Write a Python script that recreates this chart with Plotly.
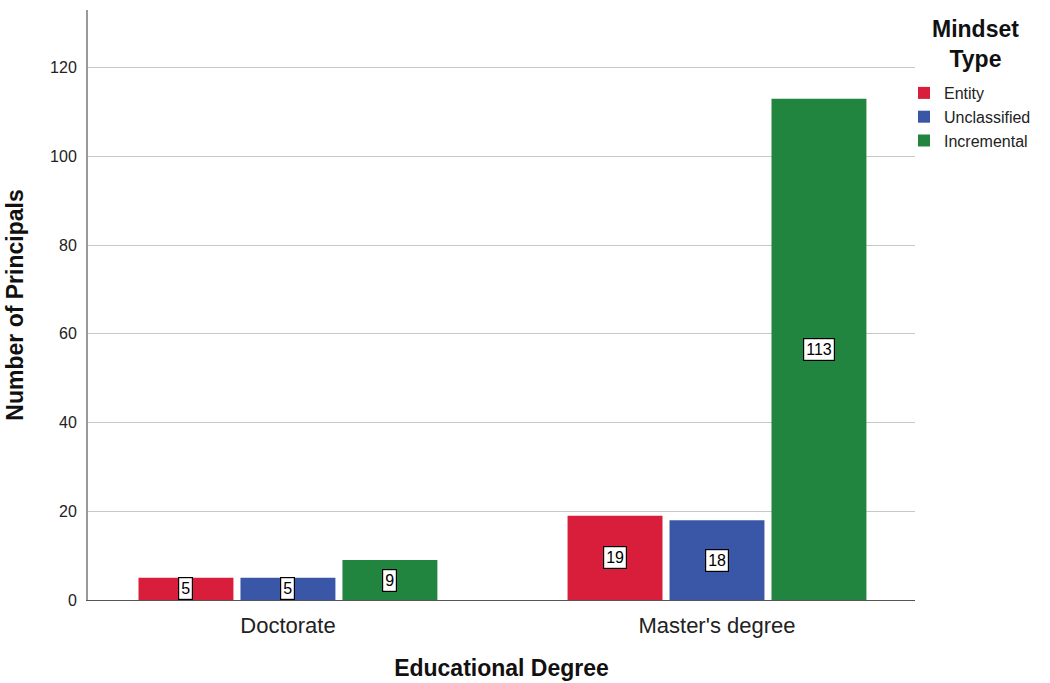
import plotly.graph_objects as go

degrees = ["Doctorate", "Master's degree"]
mindsets = ["Entity", "Unclassified", "Incremental"]
counts = {
    "Entity": [5, 19],
    "Unclassified": [5, 18],
    "Incremental": [9, 113],
}
colors = {"Entity": "#D81E3A", "Unclassified": "#3A57A7", "Incremental": "#21843F"}
y_ticks = [0, 20, 40, 60, 80, 100, 120]

FONT = "Liberation Sans, Arial, sans-serif"
BARGAP = 0.287
GROUPGAP = 0.069

fig = go.Figure()
for m in mindsets:
    fig.add_trace(go.Bar(
        name=m, x=degrees, y=counts[m],
        marker=dict(color=colors[m], line=dict(width=0)),
    ))

# boxed value labels at the middle of each bar
slot = (1 - BARGAP) / len(mindsets)
for k, m in enumerate(mindsets):
    for i, v in enumerate(counts[m]):
        fig.add_annotation(
            x=i + (k - 1) * slot, y=v / 2, xref="x", yref="y",
            text=str(v), showarrow=False,
            font=dict(family=FONT, size=16, color="black"),
            bgcolor="white", bordercolor="black", borderwidth=1.2, borderpad=2,
        )

# legend heading, centred above the entries
fig.add_annotation(
    x=(975 - 88) / 827, y=(600 - 44) / 590, xref="paper", yref="paper",
    xanchor="center", yanchor="middle",
    text="<b>Mindset<br>Type</b>", showarrow=False,
    font=dict(family=FONT, size=23, color="#111"), align="center",
)

fig.update_layout(
    width=1050, height=683,
    margin=dict(l=88, r=135, t=10, b=83, autoexpand=False),
    paper_bgcolor="white", plot_bgcolor="white",
    barmode="group", bargap=BARGAP, bargroupgap=GROUPGAP,
    font=dict(family=FONT, color="#222"),
    xaxis=dict(
        range=[-0.466, 1.4615], showgrid=False,
        showline=True, linecolor="#555", linewidth=1,
        ticks="", tickfont=dict(size=22, color="#222"), ticklabelstandoff=6,
        title=dict(text="<b>Educational Degree</b>", font=dict(size=23, color="#111"), standoff=22),
    ),
    yaxis=dict(
        range=[0, 133], tickvals=y_ticks,
        showgrid=True, gridcolor="#C8C8C8", gridwidth=1,
        showline=True, linecolor="#999", linewidth=2,
        ticks="", tickfont=dict(size=16, color="#222"), ticklabelstandoff=6,
        zeroline=False,
        title=dict(text="<b>Number of Principals</b>", font=dict(size=23, color="#111"), standoff=20),
    ),
    legend=dict(
        xref="container", yref="container",
        x=904 / 1050, y=1 - 76 / 683, xanchor="left", yanchor="top",
        font=dict(size=16, color="#222"),
        itemwidth=30, tracegroupgap=0, bgcolor="rgba(0,0,0,0)",
    ),
)

fig.write_html("out.html")
